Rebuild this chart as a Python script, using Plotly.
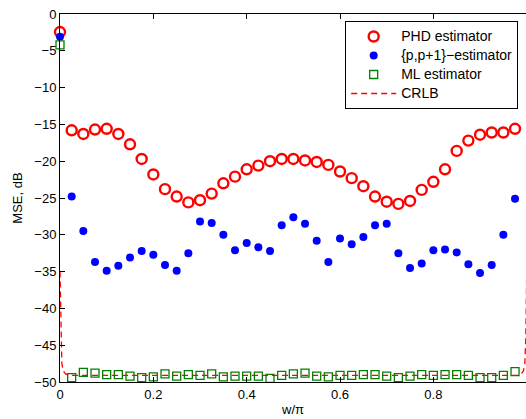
import plotly.graph_objects as go

x_est = [i * 0.025 for i in range(41)]

phd = [-2.45, -15.8, -16.3, -15.7, -15.6, -16.3, -17.7, -19.7, -21.8, -23.8,
       -24.8, -25.6, -25.3, -24.4, -23.0, -22.1, -21.1, -20.6, -20.0, -19.7,
       -19.7, -19.9, -20.1, -20.5, -21.4, -22.3, -23.4, -24.8, -25.5, -25.8,
       -25.4, -23.9, -22.8, -21.1, -18.6, -17.2, -16.4, -16.1, -16.1, -15.6,
       -3.0]

pp1 = [-3.1, -24.8, -29.5, -33.7, -34.9, -34.2, -33.1, -32.2, -32.7, -34.1,
       -34.9, -32.5, -28.2, -28.4, -30.0, -32.1, -31.1, -31.7, -32.2, -28.7,
       -27.6, -28.5, -30.8, -33.7, -30.5, -31.3, -30.3, -28.7, -28.5, -32.5,
       -34.5, -33.9, -32.1, -32.0, -32.4, -34.0, -35.2, -34.1, -30.0, -25.1,
       -3.3]

ml = [-4.2, -49.4, -48.7, -48.8, -49.0, -49.0, -49.2, -49.4, -49.3, -48.9,
      -49.2, -49.0, -49.1, -48.9, -49.3, -49.2, -49.2, -49.2, -49.5, -49.1,
      -48.9, -48.8, -49.2, -49.3, -49.1, -49.1, -49.0, -49.0, -49.2, -49.4,
      -49.2, -49.0, -49.1, -49.0, -49.0, -49.1, -49.4, -49.4, -49.1, -48.6,
      -3.5]

x_crlb = [0.0, 0.002, 0.004, 0.007, 0.012, 0.02, 0.5, 0.98, 0.988, 0.993, 0.996, 0.998, 1.0]
crlb = [-35.0, -44.0, -47.5, -48.5, -48.9, -49.1, -49.1, -49.1, -48.9, -48.5, -47.5, -44.0, -35.0]

y_ticks = [0, -5, -10, -15, -20, -25, -30, -35, -40, -45, -50]
x_ticks = [0, 0.2, 0.4, 0.6, 0.8, 1.0]

series_names = ["PHD estimator", "{p,p+1}\u2212estimator", "ML estimator", "CRLB"]

FONT = "Liberation Sans, Arial, sans-serif"


def lg(name):
    return '<span style="font-size:14px">' + name + '</span>'


fig = go.Figure()
fig.add_trace(go.Scatter(
    x=x_est, y=phd, mode="markers", name=lg(series_names[0]),
    marker=dict(symbol="circle-open", size=10, color="#ff0000", line=dict(width=2.4, color="#ff0000")),
    cliponaxis=False))
fig.add_trace(go.Scatter(
    x=x_est, y=pp1, mode="markers", name=lg(series_names[1]),
    marker=dict(symbol="circle", size=8, color="#0000ff"),
    cliponaxis=False))
fig.add_trace(go.Scatter(
    x=x_est, y=ml, mode="markers", name=lg(series_names[2]),
    marker=dict(symbol="square-open", size=8, color="#008000", line=dict(width=1.3, color="#008000")),
    cliponaxis=False))
fig.add_trace(go.Scatter(
    x=x_crlb, y=crlb, mode="lines", name=lg(series_names[3]),
    line=dict(color="#ff0000", width=1.3, dash="6px,4px"),
    cliponaxis=False))

fig.update_layout(
    width=526, height=419,
    margin=dict(l=60, r=0, t=14, b=37),
    paper_bgcolor="white", plot_bgcolor="white",
    font=dict(family=FONT, size=13, color="black"),
    showlegend=True,
    legend=dict(x=0.612, y=0.981, xanchor="left", yanchor="top",
                bgcolor="white", bordercolor="black", borderwidth=1,
                font=dict(family=FONT, size=11.2), tracegroupgap=0,
                itemwidth=45),
    xaxis=dict(range=[0, 0.9985], tickvals=x_ticks, ticktext=["0", "0.2", "0.4", "0.6", "0.8", "1"],
               ticks="inside", ticklen=5, tickcolor="black",
               showline=True, linecolor="black", linewidth=1, mirror="ticks",
               showgrid=False, zeroline=False,
               title=dict(text="w/\u03c0", font=dict(size=13), standoff=4)),
    yaxis=dict(range=[-50, 0], tickvals=y_ticks, ticks="inside", ticklen=5, tickcolor="black",
               showline=True, linecolor="black", linewidth=1, mirror=False,
               showgrid=False, zeroline=False,
               title=dict(text="MSE, dB", font=dict(size=13), standoff=8)),
    yaxis2=dict(range=[-50, 0], tickvals=y_ticks, ticks="inside", ticklen=5, tickcolor="black",
                overlaying="y", side="right", anchor="x", showticklabels=False,
                showline=False, showgrid=False, zeroline=False),
)

fig.write_html("out.html")
